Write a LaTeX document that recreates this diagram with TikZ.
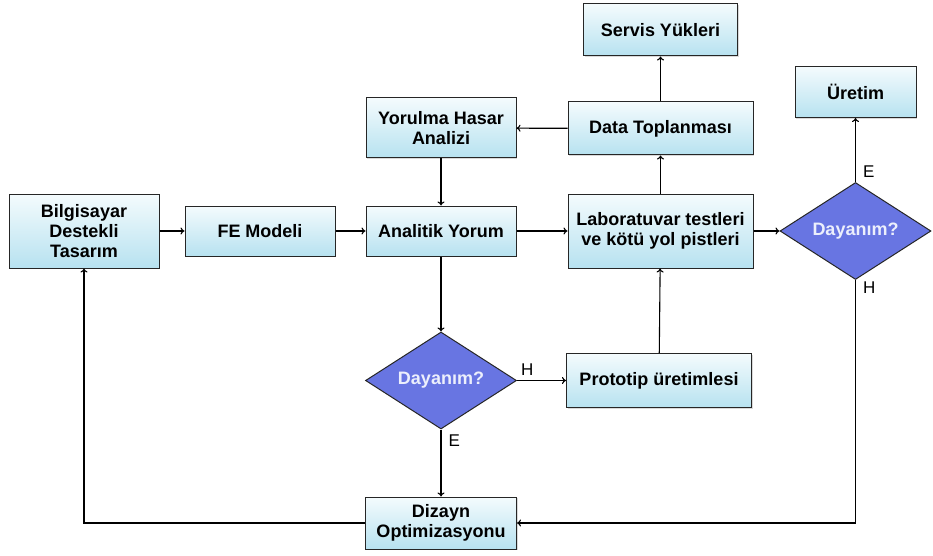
\documentclass[tikz,border=0pt]{standalone}
\usepackage{fontspec}
\setmainfont{Liberation Sans}
\usetikzlibrary{shapes.geometric, arrows.meta, positioning, shadows}
\definecolor{boxtop}{RGB}{244,251,253}
\definecolor{boxbot}{RGB}{183,226,240}
\definecolor{decfill}{RGB}{104,117,226}
\definecolor{decfont}{RGB}{236,239,252}
\tikzset{block/.style={rectangle,draw=black!85,line width=1pt,top color=boxtop,bottom color=boxbot,align=center,font=\fontsize{18}{20}\selectfont\bfseries,inner sep=2pt,drop shadow={shadow xshift=1.2pt,shadow yshift=-1.2pt,opacity=0.3}},
         decision/.style={diamond,draw=black!85,line width=1pt,fill=decfill,text=decfont,font=\fontsize{18}{20}\selectfont\bfseries,aspect=1.55,inner sep=0pt,minimum width=151pt,minimum height=97pt},
         arrow/.style={-{To[length=4pt,width=7pt]},line width=1.1pt},
         tag/.style={font=\fontsize{17}{18}\selectfont,inner sep=1pt}}
\begin{document}
\begin{tikzpicture}[x=1pt,y=1pt]
    \useasboundingbox (0,0) rectangle (933,-556);
    % main row
    \node (cad) [block, minimum width=150pt, minimum height=74pt] at (84,-231) {Bilgisayar\\Destekli\\Tasarım};
    \node (fem) [block, right=25pt of cad, minimum width=150pt, minimum height=50pt] {FE Modeli};
    \node (analitik) [block, right=30pt of fem, minimum width=150pt, minimum height=50pt] {Analitik Yorum};
    \node (lab) [block, right=51pt of analitik, minimum width=185pt, minimum height=74pt] {Laboratuvar testleri\\ve kötü yol pistleri};
    \node (dayanimR) [decision, right=26pt of lab] {Dayanım?};
    % upper part
    \node (uretim) [block, above=64pt of dayanimR, minimum width=121pt, minimum height=51pt] {Üretim};
    \node (data) [block, above=38pt of lab, minimum width=185pt, minimum height=53pt] {Data Toplanması};
    \node (servis) [block, above=45pt of data, minimum width=154pt, minimum height=52pt] {Servis Yükleri};
    \node (yorulma) [block, above=47pt of analitik, minimum width=150pt, minimum height=60pt] {Yorulma Hasar\\Analizi};
    % lower part
    \node (dayanimL) [decision, below=75pt of analitik] {Dayanım?};
    \node (proto) [block, right=49pt of dayanimL, minimum width=185pt, minimum height=54pt] {Prototip üretimlesi};
    \node (dizayn) [block, below=67pt of dayanimL, minimum width=151pt, minimum height=52pt] {Dizayn\\Optimizasyonu};

    \draw[arrow] (cad) -- (fem);
    \draw[arrow] (fem) -- (analitik);
    \draw[arrow] (yorulma) -- (analitik);
    \draw[arrow] (analitik) -- (lab);
    \draw[arrow] (data) -- (yorulma);
    \draw[arrow] (data) -- (servis);
    \draw[arrow] (lab) -- (data);
    \draw[arrow] (lab) -- (dayanimR);
    \draw[arrow] (dayanimR) -- node[tag, pos=0.05, right=6pt, anchor=south west] {E} (uretim);
    \draw[arrow] (dayanimR.south) -- node[tag, pos=0.05, right=6pt, anchor=north west] {H} ++(0,-0) |- (dizayn.east);
    \draw[arrow] (analitik) -- (dayanimL);
    \draw[arrow] (dayanimL) -- node[tag, pos=0.05, above=3pt, anchor=south west] {H} (proto);
    \draw[arrow] (dayanimL) -- node[tag, pos=0.05, right=6pt, anchor=north west] {E} (dizayn);
    \draw[arrow] (proto) -- (lab);
    \draw[arrow] (dizayn.west) -| (cad.south);
  \end{tikzpicture}
\end{document}
